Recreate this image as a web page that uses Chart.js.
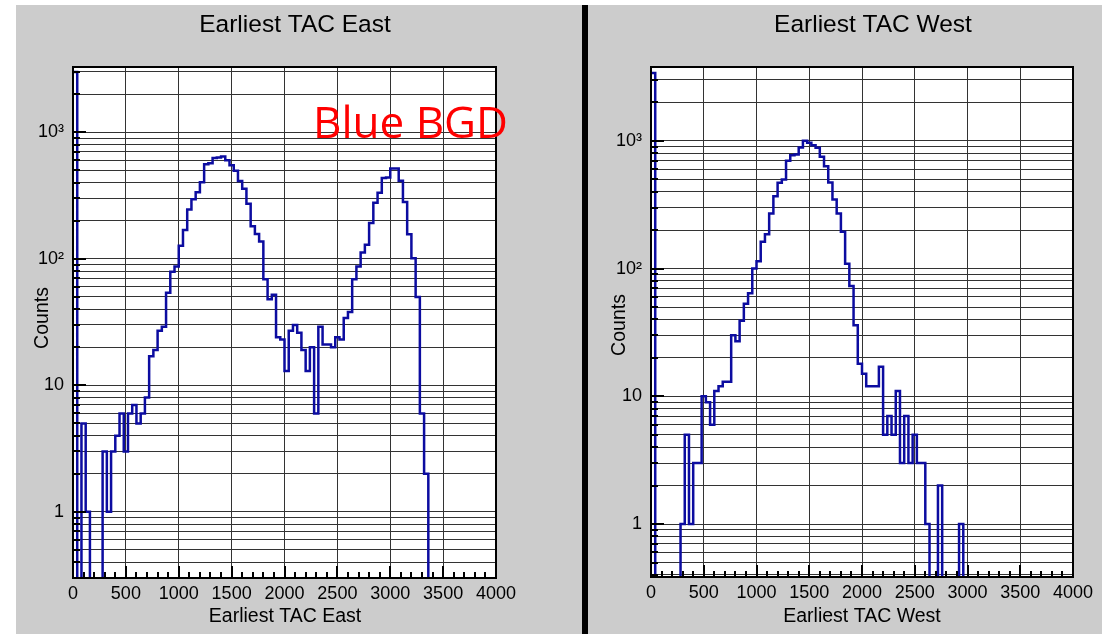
<!DOCTYPE html>
<html>
<head>
<meta charset="utf-8">
<title>Earliest TAC</title>
<script src="https://cdn.jsdelivr.net/npm/chart.js@4/dist/chart.umd.min.js"></script>
<style>
  html, body { margin: 0; padding: 0; background: #fff; }
  #page { position: relative; width: 1102px; height: 634px; overflow: hidden; }
  #bg { position: absolute; left: 16px; top: 5px; right: 0; bottom: 0; background: #cccccc; }
  #divider { position: absolute; left: 582px; top: 5px; width: 6px; bottom: 0; background: #000; }
  #east { position: absolute; left: 0; top: 0; }
  #west { position: absolute; left: 588px; top: 0; }
</style>
</head>
<body>
<div id="page">
  <div id="bg"></div>
  <div id="divider"></div>
  <canvas id="east" width="582" height="634"></canvas>
  <canvas id="west" width="514" height="634"></canvas>
</div>
<script>
// histogram: 100 bins of 40 from 0 to 4000
const binWidth = 40;
const xMax = 4000;

const eastCounts = [
  3000, 0, 5, 1, 0, 0, 0, 3, 1, 3,
  4, 6, 3, 6, 7, 5, 6, 8, 17, 19,
  27, 29, 54, 79, 87, 127, 169, 245, 296, 336,
  402, 559, 569, 627, 631, 642, 601, 549, 496, 412,
  357, 272, 181, 157, 137, 69, 48, 52, 24, 23,
  13, 27, 30, 26, 19, 13, 20, 6, 29, 21,
  21, 20, 24, 23, 34, 38, 69, 87, 112, 129,
  192, 277, 332, 435, 440, 517, 517, 414, 281, 156,
  101, 50, 6, 2, 0, 0, 0, 0, 0, 0,
  0, 0, 0, 0, 0, 0, 0, 0, 0, 0
];

const westCounts = [
  3400, 0, 0, 0, 0, 0, 0, 1, 5, 1,
  3, 3, 10, 9, 6, 11, 12, 13, 13, 30,
  27, 39, 53, 64, 100, 114, 162, 186, 270, 369,
  469, 498, 697, 772, 781, 887, 1000, 965, 925, 881,
  749, 633, 472, 348, 270, 194, 109, 73, 36, 18,
  15, 12, 12, 12, 17, 5, 7, 5, 11, 3,
  7, 3, 5, 3, 3, 1, 0, 0, 2, 0,
  0, 0, 0, 1, 0, 0, 0, 0, 0, 0,
  0, 0, 0, 0, 0, 0, 0, 0, 0, 0,
  0, 0, 0, 0, 0, 0, 0, 0, 0, 0
];

const binEdges = eastCounts.map((_, i) => i * binWidth);

const xTickValues = [0, 500, 1000, 1500, 2000, 2500, 3000, 3500, 4000];
const xMinorStep = 100;
const yLabelValues = [1, 10, 100, 1000];
const yLabelTexts = ['1', '10', '10²', '10³'];
const yDecades = [0.1, 1, 10, 100, 1000];
const yMultipliers = [1, 2, 3, 4, 5, 6, 7, 8, 9];

const FONT = '"Liberation Sans", Arial, Helvetica, sans-serif';
const LINE = '#0c0ca0';

// zero bins go far below the axis and get clipped
function toSteps(counts) {
  const pts = counts.map((c, i) => ({ x: binEdges[i], y: c > 0 ? c : 0.01 }));
  pts.push({ x: xMax, y: pts[pts.length - 1].y });
  return pts;
}

const rootStyle = {
  id: 'rootStyle',
  beforeDraw(chart) {
    const { ctx, chartArea: a } = chart;
    ctx.save();
    ctx.fillStyle = '#fff';
    ctx.fillRect(a.left, a.top, a.right - a.left, a.bottom - a.top);
    ctx.restore();
  },
  afterDraw(chart, args, o) {
    const { ctx, chartArea: a, scales: { x, y } } = chart;
    ctx.save();
    ctx.strokeStyle = '#000';
    ctx.lineWidth = 2;
    ctx.beginPath();
    // y ticks, inside the frame
    y.ticks.forEach(t => {
      const py = Math.round(y.getPixelForValue(t.value));
      const major = Math.abs(Math.log10(t.value) - Math.round(Math.log10(t.value))) < 1e-9;
      ctx.moveTo(a.left, py);
      ctx.lineTo(a.left + (major ? 13 : 7), py);
    });
    // x ticks
    for (let v = 0; v <= xMax; v += xMinorStep) {
      const px = Math.round(x.getPixelForValue(v));
      ctx.moveTo(px, a.bottom);
      ctx.lineTo(px, a.bottom - (v % 500 === 0 ? 12 : 6));
    }
    ctx.stroke();
    ctx.strokeRect(a.left, a.top, a.right - a.left, a.bottom - a.top);

    ctx.fillStyle = '#000';
    ctx.textAlign = 'center';
    ctx.textBaseline = 'middle';
    ctx.font = '24.5px ' + FONT;
    ctx.fillText(o.title, o.titleX, 25);
    ctx.font = '19.5px ' + FONT;
    ctx.fillText(o.xTitle, o.xTitleX, 617);
    ctx.save();
    ctx.translate(o.yTitleX, o.yTitleY);
    ctx.rotate(-Math.PI / 2);
    ctx.fillText('Counts', 0, 0);
    ctx.restore();

    if (o.note) {
      ctx.fillStyle = '#ff0000';
      ctx.textAlign = 'left';
      ctx.textBaseline = 'alphabetic';
      ctx.font = '44px "Open Sans", "Noto Sans", sans-serif';
      ctx.fillText(o.note, 313, 138);
    }
    ctx.restore();
  }
};

function makeChart(id, counts, area, yMin, yMax, labels) {
  const canvas = document.getElementById(id);
  const W = canvas.width, H = canvas.height;
  return new Chart(canvas.getContext('2d'), {
    type: 'line',
    data: {
      datasets: [{
        data: toSteps(counts),
        stepped: true,
        borderColor: LINE,
        borderWidth: 2.5,
        pointRadius: 0,
        fill: false
      }]
    },
    options: {
      responsive: false,
      animation: false,
      layout: { padding: { left: 0, top: area.top, right: W - area.right, bottom: 0 } },
      plugins: {
        legend: { display: false },
        tooltip: { enabled: false },
        rootStyle: labels
      },
      scales: {
        x: {
          type: 'linear',
          min: 0,
          max: xMax,
          afterFit: s => { s.height = H - area.bottom; },
          afterBuildTicks: s => { s.ticks = xTickValues.map(v => ({ value: v })); },
          grid: { color: '#333', lineWidth: 1, drawTicks: false },
          border: { display: false },
          ticks: {
            autoSkip: false,
            maxRotation: 0,
            padding: 5,
            color: '#000',
            font: { family: FONT, size: 18 },
            callback: v => String(v)
          }
        },
        y: {
          type: 'logarithmic',
          min: yMin,
          max: yMax,
          afterFit: s => { s.width = area.left; },
          afterBuildTicks: s => {
            const vals = [];
            yDecades.forEach(d => yMultipliers.forEach(m => {
              const v = +(d * m).toPrecision(3);
              if (v >= yMin && v <= yMax) vals.push(v);
            }));
            s.ticks = vals.map(v => ({ value: v }));
          },
          grid: { color: '#333', lineWidth: 1, drawTicks: false },
          border: { display: false },
          ticks: {
            autoSkip: false,
            padding: 9,
            color: '#000',
            font: { family: FONT, size: 18 },
            callback: v => {
              const i = yLabelValues.indexOf(v);
              return i >= 0 ? yLabelTexts[i] : '';
            }
          }
        }
      }
    },
    plugins: [rootStyle]
  });
}

makeChart('east', eastCounts,
  { left: 73, right: 496, top: 67, bottom: 578 }, 0.333, 3280,
  { title: 'Earliest TAC East', titleX: 295, xTitle: 'Earliest TAC East', xTitleX: 285,
    yTitleX: 43, yTitleY: 318, note: 'Blue BGD' });

makeChart('west', westCounts,
  { left: 63, right: 485, top: 67, bottom: 577 }, 0.385, 3784,
  { title: 'Earliest TAC West', titleX: 285, xTitle: 'Earliest TAC West', xTitleX: 274,
    yTitleX: 32, yTitleY: 325, note: '' });
</script>
</body>
</html>
